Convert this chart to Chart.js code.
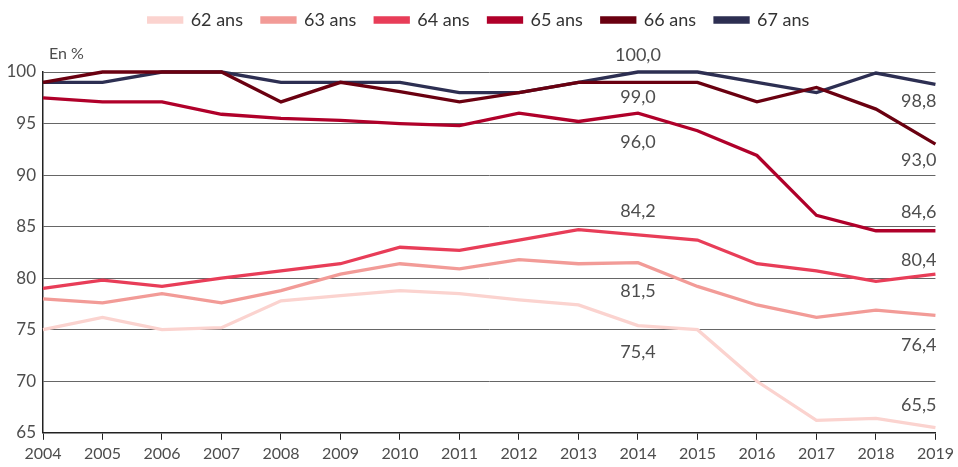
<!DOCTYPE html>
<html>
<head>
<meta charset="utf-8">
<script src="https://cdn.jsdelivr.net/npm/chart.js@4.4.1/dist/chart.umd.min.js"></script>
<style>
  html, body { margin: 0; padding: 0; background: #fff; }
  #wrap { width: 958px; height: 467px; }
</style>
</head>
<body>
<div id="wrap"><canvas id="chart"></canvas></div>
<script>
// years on the x axis
const years = ["2004", "2005", "2006", "2007", "2008", "2009", "2010", "2011",
  "2012", "2013", "2014", "2015", "2016", "2017", "2018", "2019"];

// share in %, per age
const ans62 = [75.0, 76.2, 75.0, 75.2, 77.8, 78.3, 78.8, 78.5, 77.9, 77.4, 75.4, 75.0, 70.0, 66.2, 66.4, 65.5];
const ans63 = [78.0, 77.6, 78.5, 77.6, 78.8, 80.4, 81.4, 80.9, 81.8, 81.4, 81.5, 79.2, 77.4, 76.2, 76.9, 76.4];
const ans64 = [79.0, 79.8, 79.2, 80.0, 80.7, 81.4, 83.0, 82.7, 83.7, 84.7, 84.2, 83.7, 81.4, 80.7, 79.7, 80.4];
const ans65 = [97.5, 97.1, 97.1, 95.9, 95.5, 95.3, 95.0, 94.8, 96.0, 95.2, 96.0, 94.3, 91.9, 86.1, 84.6, 84.6];
const ans66 = [99.0, 100.0, 100.0, 100.0, 97.1, 99.0, 98.1, 97.1, 98.0, 99.0, 99.0, 99.0, 97.1, 98.5, 96.4, 93.0];
const ans67 = [99.0, 99.0, 100.0, 100.0, 99.0, 99.0, 99.0, 98.0, 98.0, 99.0, 100.0, 100.0, 99.0, 98.0, 99.9, 98.8];

const yTicks = [65, 70, 75, 80, 85, 90, 95, 100];

const font = "Lato, 'Open Sans', sans-serif";
const textColor = "#4d4d4d";

// value labels: [dataset index, year index, vertical offset, align]
const valueLabels = [
  [5, 10, -17, "center"], [4, 10, 15, "center"], [3, 10, 29, "center"],
  [2, 10, -24, "center"], [1, 10, 28, "center"], [0, 10, 27, "center"],
  [5, 15, 17, "right"], [4, 15, 16, "right"], [3, 15, -19, "right"],
  [2, 15, -14, "right"], [1, 15, 30, "right"], [0, 15, -22, "right"]
];

function fmt(v) { return v.toFixed(1).replace(".", ","); }

const labelPlugin = {
  id: "labels",
  afterInit(chart) {
    // leave room between the legend and the plot
    const legend = chart.legend;
    const fit = legend.fit;
    legend.fit = function () { fit.call(this); this.height = 80; };
  },
  afterDatasetsDraw(chart) {
    const ctx = chart.ctx;
    const xs = chart.scales.x, ys = chart.scales.y;
    ctx.save();
    ctx.font = "18px " + font;
    ctx.fillStyle = textColor;
    ctx.textBaseline = "middle";
    for (const [d, i, off, align] of valueLabels) {
      const v = chart.data.datasets[d].data[i];
      let x = xs.getPixelForValue(i);
      if (align == "right") { x = chart.chartArea.right + 1; }
      ctx.textAlign = align;
      ctx.fillText(fmt(v), x, ys.getPixelForValue(v) + off);
    }
    ctx.textAlign = "left";
    ctx.font = "16px " + font;
    ctx.fillText("En %", chart.chartArea.left + 6, chart.chartArea.top - 18);
    ctx.restore();
  }
};

function ds(label, data, color) {
  return {
    label: label,
    data: data,
    borderColor: color,
    backgroundColor: color,
    borderWidth: 3.3,
    pointRadius: 0,
    tension: 0,
    clip: false
  };
}

new Chart(document.getElementById("chart"), {
  type: "line",
  data: {
    labels: years,
    datasets: [
      ds("62 ans", ans62, "#fbd3cf"),
      ds("63 ans", ans63, "#f29b97"),
      ds("64 ans", ans64, "#e83d58"),
      ds("65 ans", ans65, "#b0002a"),
      ds("66 ans", ans66, "#6a0010"),
      ds("67 ans", ans67, "#2d2f52")
    ]
  },
  options: {
    responsive: true,
    maintainAspectRatio: false,
    animation: false,
    layout: { padding: { top: -8, right: 0, left: 0, bottom: 0 } },
    plugins: {
      tooltip: { enabled: false },
      legend: {
        position: "top",
        labels: {
          boxWidth: 33,
          boxHeight: 4,
          padding: 19,
          color: "#333",
          font: { family: font, size: 18 }
        }
      }
    },
    scales: {
      x: {
        offset: false,
        grid: { drawOnChartArea: false, drawTicks: true, tickLength: 7, color: "#222" },
        border: { color: "#222", width: 1.5 },
        ticks: { color: textColor, font: { family: font, size: 16 }, padding: 4, maxRotation: 0, autoSkip: false }
      },
      y: {
        min: 65,
        max: 100,
        afterBuildTicks(axis) { axis.ticks = yTicks.map(v => ({ value: v })); },
        afterFit(axis) { axis.width = 43; },
        grid: { drawTicks: false, color: "#666", lineWidth: 1 },
        border: { color: "#222", width: 1.5 },
        ticks: { color: textColor, font: { family: font, size: 17 }, padding: 7 }
      }
    }
  },
  plugins: [labelPlugin]
});
</script>
</body>
</html>
